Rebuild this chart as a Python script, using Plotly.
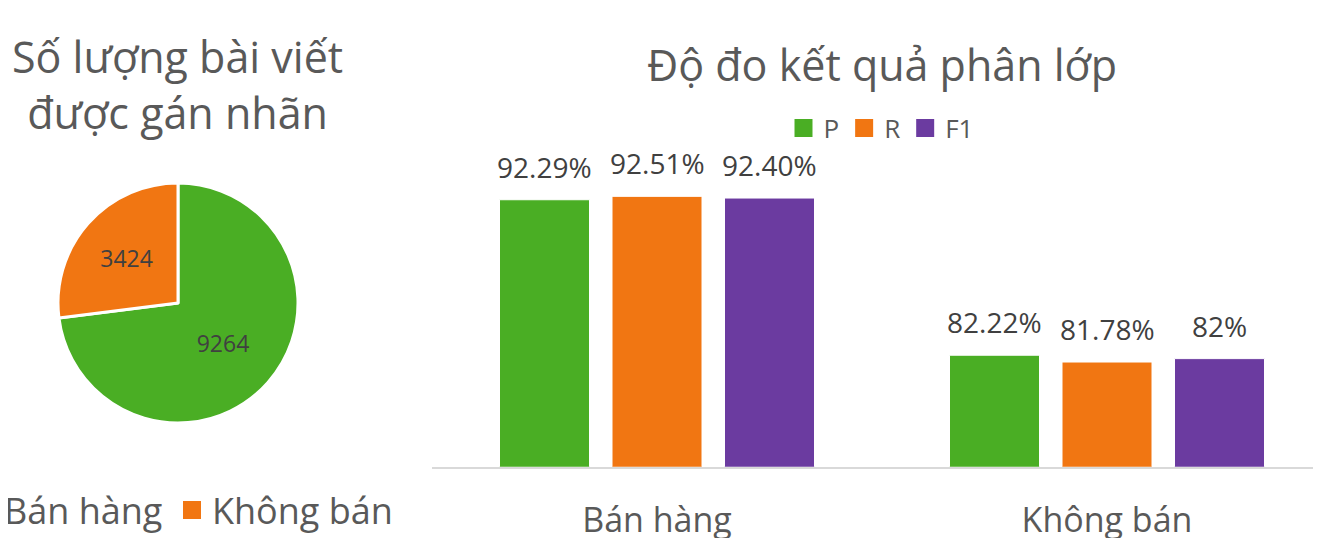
import plotly.graph_objects as go

# pie: number of labelled posts
pie_labels = ["Bán hàng", "Không bán"]
pie_values = [9264, 3424]

# bars: classification metrics per class
classes = ["Bán hàng", "Không bán"]
metrics = ["P", "R", "F1"]
metric_values = {
    "P": [92.29, 82.22],
    "R": [92.51, 81.78],
    "F1": [92.40, 82.00],
}
metric_labels = {
    "P": ["92.29%", "82.22%"],
    "R": ["92.51%", "81.78%"],
    "F1": ["92.40%", "82%"],
}

GREEN = "#4AAE24"
ORANGE = "#F17612"
PURPLE = "#6B3BA0"
colors = {"P": GREEN, "R": ORANGE, "F1": PURPLE}
pie_colors = [GREEN, ORANGE]
FONT = "Open Sans"
W, H = 1321, 538
PAGE = 8  # the page body adds an 8px margin round the plot div
CAT_PX = 450  # width of one category band on the bar axis
BARGAP, GROUPGAP = 0.25, 0.2


def px_x(x):
    # window pixel -> paper fraction
    return (x - PAGE) / W


def px_y(y):
    return 1 - (y - PAGE) / H


def legend_square(name, color, legend):
    # marker-only trace, just to get a bigger square in the legend
    return go.Scatter(
        x=[None],
        y=[None],
        mode="markers",
        name=name,
        marker=dict(symbol="square", size=16, color=color,
                    line=dict(color=color, width=2)),
        legend=legend,
        hoverinfo="skip",
    )


fig = go.Figure()

fig.add_trace(
    go.Pie(
        labels=pie_labels,
        values=pie_values,
        sort=False,
        direction="clockwise",
        rotation=0,
        marker=dict(colors=pie_colors, line=dict(color="white", width=3)),
        textinfo="value",
        textposition="inside",
        insidetextorientation="horizontal",
        textfont=dict(family=FONT, size=23, color="#404040"),
        domain=dict(x=[px_x(56), px_x(300)], y=[px_y(423), px_y(183)]),
        showlegend=False,
        hoverinfo="label+value",
    )
)

# each pie entry in its own legend so the spacing can follow the original
fig.add_trace(legend_square(pie_labels[0], pie_colors[0], "legend"))
fig.add_trace(legend_square(pie_labels[1], pie_colors[1], "legend3"))

for m in metrics:
    fig.add_trace(
        go.Bar(
            x=classes,
            y=metric_values[m],
            name=m,
            marker=dict(color=colors[m], line=dict(color="white", width=1)),
            showlegend=False,
        )
    )
    fig.add_trace(legend_square(m, colors[m], "legend2"))

# value labels above the bars (bar text would be squeezed to the bar width)
slot = CAT_PX * (1 - BARGAP) / len(metrics)
value_notes = []
for i, m in enumerate(metrics):
    for cat, v, lab in zip(classes, metric_values[m], metric_labels[m]):
        value_notes.append(
            dict(
                x=cat,
                y=v,
                text=lab,
                xshift=(i - (len(metrics) - 1) / 2) * slot,
                yshift=12,
                yanchor="bottom",
                showarrow=False,
                font=dict(family=FONT, size=28, color="#404040"),
            )
        )

legend_common = dict(
    orientation="h",
    xanchor="left",
    yanchor="middle",
    bgcolor="rgba(0,0,0,0)",
)

fig.update_layout(
    width=W,
    height=H,
    margin=dict(l=0, r=0, t=0, b=0, autoexpand=False),
    paper_bgcolor="white",
    plot_bgcolor="white",
    font=dict(family=FONT, color="#595959"),
    barmode="group",
    bargap=BARGAP,
    bargroupgap=GROUPGAP,
    xaxis=dict(
        type="category",
        categoryorder="array",
        categoryarray=classes,
        domain=[px_x(432), 1],
        range=[-0.5, -0.5 + (W - (432 - PAGE)) / CAT_PX],
        showgrid=False,
        showline=True,
        linecolor="#D9D9D9",
        linewidth=2,
        ticks="",
        tickfont=dict(family=FONT, size=34, color="#595959"),
        ticklabelstandoff=22,
    ),
    yaxis=dict(
        domain=[px_y(466.7), px_y(157.9)],
        range=[75, 95],
        visible=False,
    ),
    legend=dict(
        legend_common,
        x=px_x(-36),
        y=px_y(510),
        font=dict(family=FONT, size=36, color="#595959"),
    ),
    legend3=dict(
        legend_common,
        x=px_x(172),
        y=px_y(510),
        font=dict(family=FONT, size=36, color="#595959"),
    ),
    legend2=dict(
        orientation="h",
        x=px_x(881),
        xanchor="center",
        y=px_y(128),
        yanchor="middle",
        font=dict(family=FONT, size=26, color="#595959"),
        bgcolor="rgba(0,0,0,0)",
    ),
    annotations=[
        dict(
            text="Số lượng bài viết<br>được gán nhãn",
            x=px_x(177),
            y=px_y(84),
            xref="paper",
            yref="paper",
            xanchor="center",
            yanchor="middle",
            showarrow=False,
            font=dict(family=FONT, size=43, color="#595959"),
        ),
        dict(
            text="Độ đo kết quả phân lớp",
            x=px_x(882),
            y=px_y(64),
            xref="paper",
            yref="paper",
            xanchor="center",
            yanchor="middle",
            showarrow=False,
            font=dict(family=FONT, size=43, color="#595959"),
        ),
    ]
    + value_notes,
)

fig.write_html("out.html")
